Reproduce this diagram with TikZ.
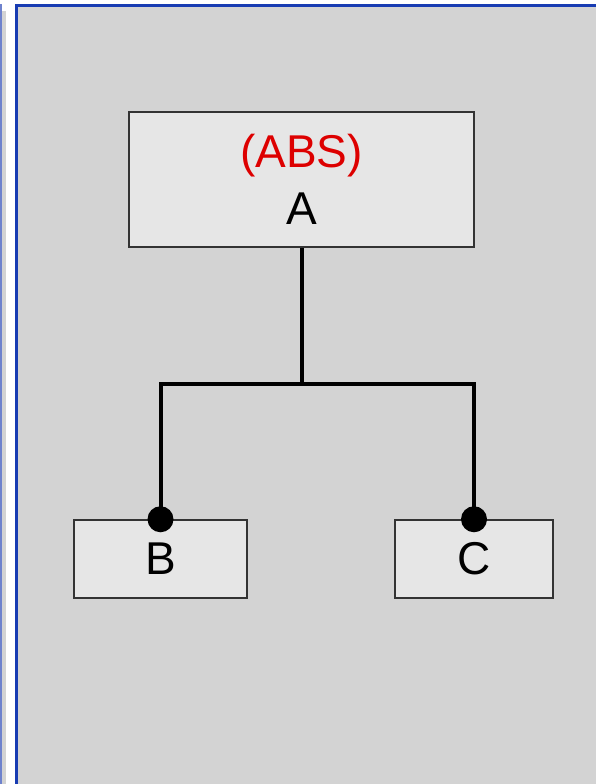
\documentclass[tikz,border=0pt]{standalone}
\usepackage{fontspec}
\setmainfont{Liberation Sans}
\usepackage{tikz}
\usetikzlibrary{arrows}
\definecolor{panel}{RGB}{211,211,211}
\definecolor{boxfill}{RGB}{230,230,230}
\definecolor{frame}{RGB}{24,60,178}
\definecolor{lframe}{RGB}{110,130,205}
\definecolor{absred}{RGB}{221,0,0}
\tikzstyle{box}=[rectangle, draw=black!80, line width=1.5pt, fill=boxfill, inner sep=0pt]
\tikzstyle{link}=[line width=4pt, black]

\begin{document}
\begin{tikzpicture}[
    x=1pt, y=-1pt,
    every node/.style={font=\fontsize{46}{57}\selectfont}]

      \useasboundingbox (0,0) rectangle (596,784);

      % neighbouring panel, cut off
      \fill[lframe] (0,4) rectangle (2,784);
      \fill[panel] (2,11) rectangle (6,784);

      % main panel with its frame
      \fill[frame] (15,4) rectangle (596,784);
      \fill[panel] (18,7) rectangle (596,784);

      \node[box, minimum width=345pt, minimum height=135pt, align=center]
        (A) at (301.5,179.5) {\textcolor{absred}{(ABS)}\\A};

      \node[box, minimum width=173pt, minimum height=78pt] (B) at (160.5,559) {B};
      \node[box, minimum width=158pt, minimum height=78pt] (C) at (474,559) {C};

      \coordinate (fork) at (301.5,383.5);

      \draw[link] (A.south) -- (fork);
      \draw[link] (fork) -| (B.north);
      \draw[link] (fork) -| (C.north);

      \foreach \p in {B, C}
        \fill (\p.north) circle (13);

    \end{tikzpicture}
\end{document}
